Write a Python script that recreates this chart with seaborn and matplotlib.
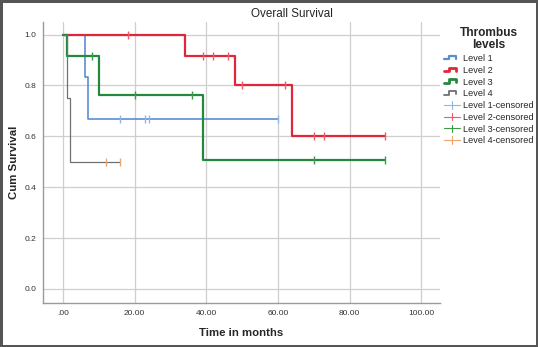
import matplotlib
matplotlib.use("Agg")
import matplotlib.pyplot as plt
import seaborn as sns
import numpy as np
import pandas as pd
from matplotlib.legend_handler import HandlerBase
from matplotlib.lines import Line2D

# Kaplan-Meier step values
groups = ["Level 1", "Level 2", "Level 3", "Level 4"]
step_times = {
    "Level 1": [0, 6, 7, 60],
    "Level 2": [0, 34, 48, 64, 90],
    "Level 3": [0, 1, 10, 39, 90],
    "Level 4": [0, 1, 2, 16],
}
step_surv = {
    "Level 1": [1.0, 0.833, 0.667, 0.667],
    "Level 2": [1.0, 0.917, 0.802, 0.602, 0.602],
    "Level 3": [1.0, 0.917, 0.764, 0.508, 0.508],
    "Level 4": [1.0, 0.75, 0.5, 0.5],
}
censor_times = {
    "Level 1": [16, 23, 24, 60],
    "Level 2": [18, 39, 42, 46, 50, 62, 70, 73, 90],
    "Level 3": [8, 20, 36, 70, 90],
    "Level 4": [12, 16],
}

line_colors = {"Level 1": "#5a8ed2", "Level 2": "#e0263a",
               "Level 3": "#23893c", "Level 4": "#707070"}
line_widths = {"Level 1": 1.2, "Level 2": 1.6, "Level 3": 1.6, "Level 4": 0.9}
cens_colors = {"Level 1": "#8fb6e6", "Level 2": "#ee5a6a",
               "Level 3": "#3c9a48", "Level 4": "#f0a46a"}


def surv_at(g, t):
    ts = np.array(step_times[g])
    idx = np.searchsorted(ts, t, side="right") - 1
    return step_surv[g][idx]


class StepHandler(HandlerBase):
    def create_artists(self, legend, orig_handle, xdescent, ydescent,
                       width, height, fontsize, trans):
        w, h = width, height
        xs = np.array([0, 0.3, 0.3, 0.75, 0.75]) * w - xdescent
        ys = np.array([0.25, 0.25, 0.8, 0.8, 0.35]) * h - ydescent
        ln = Line2D(xs, ys, color=orig_handle.get_color(),
                    lw=orig_handle.get_linewidth(), transform=trans)
        return [ln]


class CensHandler(HandlerBase):
    def create_artists(self, legend, orig_handle, xdescent, ydescent,
                       width, height, fontsize, trans):
        w, h = width, height
        c = orig_handle.get_color()
        l1 = Line2D([-xdescent, w - xdescent], [h / 2 - ydescent] * 2,
                    color=c, lw=0.8, transform=trans)
        l2 = Line2D([w / 2 - xdescent] * 2, [-0.1 * h - ydescent, 1.1 * h - ydescent],
                    color=c, lw=0.8, transform=trans)
        return [l1, l2]


class StepLine(Line2D):
    pass


class CensLine(Line2D):
    pass


sns.set_style("white")
plt.rcParams["font.family"] = ["Liberation Sans", "DejaVu Sans"]
fig = plt.figure(figsize=(5.38, 3.47), dpi=100)
fig.patch.set_edgecolor("#555555")
fig.patch.set_linewidth(2.5)
ax = fig.add_axes([0.080, 0.127, 0.738, 0.810])

for g in groups:
    df = pd.DataFrame({"t": step_times[g], "s": step_surv[g]})
    sns.lineplot(data=df, x="t", y="s", ax=ax, color=line_colors[g],
                 lw=line_widths[g], drawstyle="steps-post", estimator=None,
                 sort=False, zorder=3)
for g in groups:
    cdf = pd.DataFrame({"t": censor_times[g],
                        "s": [surv_at(g, t) for t in censor_times[g]]})
    sns.scatterplot(data=cdf, x="t", y="s", ax=ax, marker="|", s=28,
                    color=cens_colors[g], linewidth=1.0, zorder=4)

ax.set_xlim(-5.6, 105.3)
ax.set_ylim(-0.055, 1.05)
ax.set_xticks([0, 20, 40, 60, 80, 100])
ax.set_xticklabels([".00", "20.00", "40.00", "60.00", "80.00", "100.00"])
ax.set_yticks([0, 0.2, 0.4, 0.6, 0.8, 1.0])
ax.set_yticklabels(["0.0", "0.2", "0.4", "0.6", "0.8", "1.0"])
ax.tick_params(axis="both", length=0, labelsize=6, colors="#333333", pad=5)
ax.grid(True, color="#cfcfcf", lw=0.9)
ax.set_axisbelow(True)
for side in ["top", "right"]:
    ax.spines[side].set_visible(False)
for side in ["left", "bottom"]:
    ax.spines[side].set_color("#9a9a9a")
    ax.spines[side].set_linewidth(1.0)

ax.set_xlabel("Time in months", fontsize=8.2, fontweight="bold")
ax.xaxis.set_label_coords(0.5, -0.09)
ax.set_ylabel("Cum Survival", fontsize=8.2, fontweight="bold")
ax.yaxis.set_label_coords(-0.06, 0.5)
fig.text(292 / 538, 1 - 14 / 347, "Overall Survival", ha="center", va="center",
         fontsize=8.4)

handles = [StepLine([], [], color=line_colors[g], lw=line_widths[g] + 0.4) for g in groups]
handles += [CensLine([], [], color=cens_colors[g]) for g in groups]
labels = groups + [f"{g}-censored" for g in groups]
leg = fig.legend(handles, labels, loc="upper left",
                 bbox_to_anchor=(437 / 538, 1 - 20 / 347),
                 frameon=False, fontsize=6.6, handlelength=1.75,
                 handletextpad=0.25, labelspacing=0.3, borderpad=0.3,
                 title="Thrombus\nlevels",
                 title_fontproperties={"weight": "bold", "size": 8.6},
                 handler_map={StepLine: StepHandler(), CensLine: CensHandler()})
leg._legend_box.align = "center"
leg.get_title().set_multialignment("center")
leg.get_title().set_linespacing(1.0)

fig.savefig("out.png", dpi=100, edgecolor=fig.get_edgecolor(),
            facecolor="white")
